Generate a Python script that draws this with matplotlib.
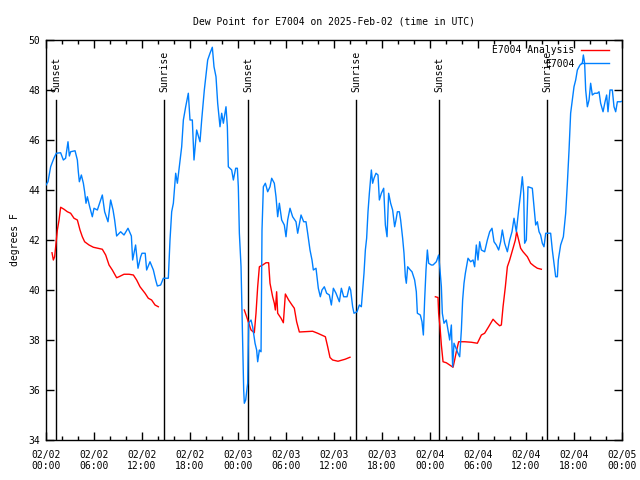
import numpy as np
import matplotlib
matplotlib.use("Agg")
import matplotlib.pyplot as plt

plt.rcParams['font.family'] = ['DejaVu Sans Mono']

title = "Dew Point for E7004 on 2025-Feb-02 (time in UTC)"
ylabel = "degrees F"
series_names = ["E7004 Analysis", "E7004"]

# hours since 2025-02-02 00:00 UTC
obs_h = [0.0, 0.25, 0.58, 1.0, 1.29, 1.83, 2.17, 2.45, 2.75, 2.92, 3.08, 3.63, 3.92, 4.04, 4.17, 4.42, 4.67, 4.83,
         5.0, 5.17, 5.46, 5.79, 6.0, 6.42, 6.83, 7.04, 7.33, 7.75, 8.08, 8.38, 8.58, 8.83, 9.33, 9.75, 10.25, 10.67,
         10.83, 11.2, 11.5, 11.83, 12.0, 12.4, 12.58, 13.0, 13.42, 13.71, 13.92, 14.33, 14.67, 15.29, 15.5, 15.71,
         15.92, 16.21, 16.42, 16.67, 16.96, 17.17, 17.46, 17.79, 18.0, 18.29, 18.5, 18.83, 19.25, 19.46, 19.79, 20.21,
         20.5, 20.79, 21.0, 21.25, 21.46, 21.75, 21.96, 22.17, 22.5, 22.67, 22.79, 23.21, 23.42, 23.71, 23.92, 24.04,
         24.17, 24.38, 24.5, 24.58, 24.71, 24.79, 24.96, 25.21, 25.33, 25.63, 25.83, 26.13, 26.33, 26.46, 26.67, 26.88,
         27.0, 27.17, 27.42, 27.71, 28.0, 28.21, 28.54, 28.75, 28.96, 29.17, 29.46, 29.79, 30.0, 30.21, 30.5, 30.83,
         31.25, 31.46, 31.88, 32.21, 32.5, 32.71, 33.0, 33.25, 33.42, 33.75, 34.04, 34.29, 34.5, 34.79, 35.08, 35.42,
         35.67, 35.92, 36.25, 36.67, 36.92, 37.21, 37.63, 37.92, 38.08, 38.33, 38.5, 38.88, 39.17, 39.42, 39.58, 39.75,
         39.92, 40.08, 40.25, 40.42, 40.67, 40.83, 41.0, 41.25, 41.5, 41.67, 41.92, 42.21, 42.42, 42.63, 42.83, 43.08,
         43.33, 43.58, 43.75, 43.92, 44.17, 44.33, 44.58, 44.75, 44.92, 45.04, 45.21, 45.54, 45.75, 46.08, 46.29, 46.42,
         46.79, 47.0, 47.17, 47.33, 47.5, 47.67, 47.83, 48.17, 48.38, 48.79, 49.08, 49.25, 49.42, 49.54, 49.75, 50.04,
         50.25, 50.46, 50.67, 50.83, 51.0, 51.25, 51.5, 51.71, 51.92, 52.08, 52.25, 52.42, 52.75, 53.08, 53.38, 53.58,
         53.79, 54.0, 54.21, 54.42, 54.83, 55.17, 55.46, 55.75, 56.0, 56.29, 56.58, 56.83, 57.04, 57.33, 57.67, 57.96,
         58.25, 58.5, 58.79, 59.08, 59.33, 59.54, 59.71, 59.83, 60.04, 60.25, 60.79, 61.0, 61.21, 61.42, 61.63, 61.83,
         62.04, 62.25, 62.46, 63.08, 63.29, 63.5, 63.71, 63.92, 64.04, 64.33, 64.67, 64.96, 65.17, 65.38, 65.58, 65.79,
         66.0, 66.21, 66.42, 66.75, 67.04, 67.17, 67.33, 67.46, 67.67, 67.88, 68.08, 68.29, 68.58, 68.92, 69.13, 69.33,
         69.63, 69.88, 70.08, 70.25, 70.5, 70.79, 71.0, 71.21, 71.42, 71.83, 72.0]
obs_v = [44.2, 44.33, 44.93, 45.28, 45.47, 45.49, 45.2, 45.27, 45.93, 45.36, 45.53, 45.57, 45.2, 44.73, 44.33, 44.6, 44.27, 43.93,
         43.47, 43.73, 43.33, 42.93, 43.27, 43.2, 43.6, 43.8, 43.13, 42.73, 43.6, 43.2, 42.8, 42.16, 42.33, 42.2, 42.47, 42.16,
         41.2, 41.8, 40.87, 41.33, 41.47, 41.47, 40.8, 41.13, 40.8, 40.4, 40.16, 40.2, 40.47, 40.47, 42.0, 43.13,
         43.47, 44.67, 44.27, 44.93, 45.73, 46.8, 47.33, 47.87, 46.8, 46.8, 45.2, 46.4, 45.93, 46.8, 48.0, 49.2,
         49.47, 49.71, 48.93, 48.53, 47.47, 46.53, 47.07, 46.67, 47.33, 46.53, 44.93, 44.8, 44.4, 44.87, 44.87, 44.13,
         42.27, 40.93, 39.2, 38.0, 36.0, 35.47, 35.6, 36.27, 38.68, 38.8, 38.53, 37.87, 37.6, 37.13, 37.6, 37.53,
         42.4, 44.13, 44.27, 43.93, 44.13, 44.47, 44.27, 43.73, 42.93, 43.47, 42.8, 42.6, 42.13, 42.8, 43.27, 42.93,
         42.73, 42.27, 43.0, 42.73, 42.73, 42.27, 41.6, 41.2, 40.8, 40.87, 40.07, 39.73, 40.0, 40.13, 39.87, 39.8,
         39.4, 40.07, 39.87, 39.53, 40.07, 39.73, 39.73, 40.13, 40.0, 39.33, 39.07, 39.13, 39.4, 39.33, 40.0, 40.67,
         41.6, 42.07, 43.13, 43.87, 44.8, 44.27, 44.47, 44.67, 44.6, 43.6, 43.87, 44.07, 42.6, 42.13, 43.87, 43.47,
         43.2, 42.53, 42.8, 43.13, 43.13, 42.8, 42.07, 41.47, 40.53, 40.27, 40.93, 40.8, 40.73, 40.4, 39.93, 39.07,
         39.0, 38.73, 38.2, 39.6, 40.8, 41.6, 41.07, 41.0, 41.0, 41.13, 41.4, 40.8, 40.13, 39.07, 38.67, 38.8,
         38.4, 38.0, 38.6, 36.93, 37.87, 37.67, 37.47, 37.33, 38.4, 39.6, 40.27, 40.67, 41.27, 41.13, 41.2, 40.93,
         41.8, 41.2, 41.93, 41.6, 41.53, 42.0, 42.33, 42.47, 41.93, 41.8, 41.6, 41.93, 42.4, 41.87, 41.53, 42.0,
         42.33, 42.87, 42.33, 43.2, 43.87, 44.53, 43.87, 41.87, 42.0, 44.13, 44.07, 43.33, 42.6, 42.73, 42.33, 42.2,
         41.87, 41.73, 42.27, 42.27, 41.6, 41.07, 40.53, 40.53, 41.2, 41.8, 42.13, 43.07, 44.27, 45.6, 47.07, 47.6,
         48.13, 48.4, 48.8, 49.0, 49.07, 49.4, 49.07, 48.0, 47.33, 47.6, 48.27, 47.8, 47.87, 47.87, 47.93, 47.47,
         47.13, 47.53, 47.8, 47.13, 48.0, 48.0, 47.33, 47.13, 47.53, 47.53, 47.55]

# analysis series, three runs (NaN separates them)
ana_h = [0.75, 0.92, 1.08, 1.21, 1.42, 1.63, 1.83, 2.25, 2.67, 3.08, 3.5, 3.92, 4.25, 4.54, 4.83, 5.38, 5.92, 7.04,
         7.46, 7.88, 8.29, 8.83, 9.12, 9.75, 10.38, 10.92, 11.33, 11.75, 12.38, 12.79, 13.2, 13.63, 14.04,
         np.nan,
         24.79, 25.08, 25.42, 25.63, 26.04, 26.25, 26.46, 26.67, 27.08, 27.5, 27.83, 28.0, 28.33, 28.54, 28.67, 28.83,
         28.96, 29.38, 29.67, 29.92, 30.33, 30.75, 31.04, 31.33, 31.67, 33.33, 33.96, 34.92, 35.21, 35.5, 35.83, 36.5,
         37.38, 38.0,
         np.nan,
         48.67, 49.0, 49.08, 49.25, 49.42, 49.63, 50.04, 50.46, 50.88, 51.08, 51.29, 51.58, 52.33, 53.17, 53.92, 54.42,
         54.83, 55.33, 55.88, 56.29, 56.71, 56.92, 57.13, 57.42, 57.67, 57.96, 58.38, 58.67, 58.83, 59.08, 59.33, 59.63,
         60.17, 60.58, 61.0, 61.42, 61.92]
ana_v = [41.49, 41.2, 41.33, 41.73, 42.4, 42.8, 43.31, 43.23, 43.13, 43.07, 42.87, 42.8, 42.4, 42.13, 41.93, 41.8, 41.71, 41.63,
         41.4, 41.0, 40.8, 40.49, 40.53, 40.63, 40.63, 40.6, 40.4, 40.13, 39.87, 39.67, 39.6, 39.4, 39.33,
         np.nan,
         39.2, 38.93, 38.6, 38.4, 38.29, 39.07, 40.13, 40.93, 41.0, 41.09, 41.09, 40.27, 39.73, 39.47, 39.2, 39.93,
         39.07, 38.87, 38.69, 39.84, 39.6, 39.4, 39.27, 38.73, 38.32, 38.35, 38.27, 38.13, 37.73, 37.3, 37.2, 37.15,
         37.23, 37.31,
         np.nan,
         39.73, 39.7, 39.07, 38.53, 37.8, 37.13, 37.09, 37.0, 36.91, 37.2, 37.53, 37.93, 37.93, 37.91, 37.87, 38.2,
         38.27, 38.53, 38.83, 38.69, 38.57, 38.6, 39.33, 40.13, 40.93, 41.2, 41.67, 42.0, 42.33, 42.0, 41.67, 41.53,
         41.33, 41.07, 40.96, 40.87, 40.83]

sun_h = [1.25, 14.79, 25.29, 38.79, 49.16, 62.66]
sun_labels = ["Sunset", "Sunrise", "Sunset", "Sunrise", "Sunset", "Sunrise"]

xtick_h = [0, 6, 12, 18, 24, 30, 36, 42, 48, 54, 60, 66, 72]
xtick_labels = ["02/02\n00:00", "02/02\n06:00", "02/02\n12:00", "02/02\n18:00", "02/03\n00:00", "02/03\n06:00",
                "02/03\n12:00", "02/03\n18:00", "02/04\n00:00", "02/04\n06:00", "02/04\n12:00", "02/04\n18:00",
                "02/05\n00:00"]
yticks = [34, 36, 38, 40, 42, 44, 46, 48, 50]

fig = plt.figure(figsize=(6.4, 4.8), dpi=100)
ax = fig.add_axes([46/640, 40/480, 576/640, 400/480])

for h, lab in zip(sun_h, sun_labels):
    ax.plot([h, h], [34, 47.6], color='black', lw=1.0, zorder=1)
    ax.text(h, 47.92, lab, rotation=90, ha='center', va='bottom', fontsize=7, zorder=1)

ax.plot(ana_h, ana_v, color='#ff0000', lw=1.0, label=series_names[0], zorder=2)
ax.plot(obs_h, obs_v, color='#0080ff', lw=1.0, label=series_names[1], zorder=3)

ax.set_xlim(0, 72)
ax.set_ylim(34, 50)
ax.set_xticks(xtick_h)
ax.set_xticklabels(xtick_labels, fontsize=7)
ax.set_xticks(np.arange(0, 73, 2), minor=True)
ax.set_yticks(yticks)
ax.set_yticklabels([str(v) for v in yticks], fontsize=7)
ax.tick_params(axis='both', which='major', direction='in', length=6, width=1, top=True, right=True, pad=4)
ax.tick_params(axis='x', which='major', pad=7)
ax.tick_params(axis='both', which='minor', direction='in', length=3, width=1, top=True, right=True)
for s in ax.spines.values():
    s.set_linewidth(1.0)

ax.set_title(title, fontsize=7, pad=11)
ax.set_ylabel(ylabel, fontsize=7, labelpad=6)

ax.legend(loc='upper right', bbox_to_anchor=(0.981, 0.992), frameon=False, markerfirst=False, fontsize=7,
          handlelength=2.9, handletextpad=0.7, labelspacing=0.35, borderpad=0.2, borderaxespad=0.0)

fig.savefig("out.png", dpi=100)
